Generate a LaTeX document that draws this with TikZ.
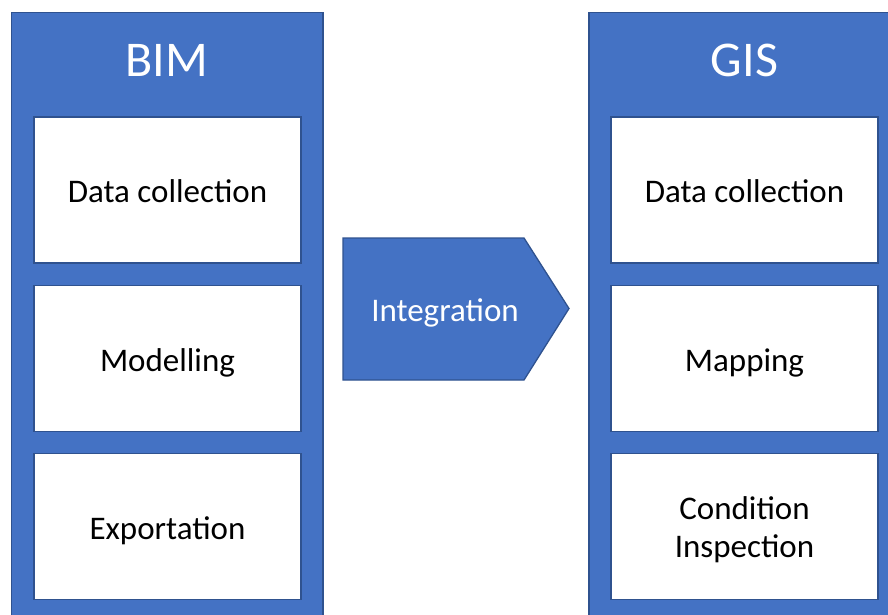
\documentclass[tikz,border=0pt]{standalone}
\usepackage{fontspec}
\setmainfont{Carlito}
\definecolor{panel}{RGB}{68,114,196}
\definecolor{edge}{RGB}{47,82,143}
\usepackage{tikz}

\begin{document}
\begin{tikzpicture}[x=1pt,y=-1pt,
    colbox/.style={fill=panel,draw=edge,line width=1.3pt},
    itembox/.style={fill=white,draw=edge,line width=1.3pt,minimum width=267pt,minimum height=146pt,
      inner sep=0pt,align=center,font=\fontsize{33}{38}\selectfont},
    oneline/.style={text height=33pt,text depth=8pt},
    title/.style={text=white,font=\fontsize{50}{60}\selectfont}]
  \useasboundingbox (0,0) rectangle (888,614);
  \clip (0,0) rectangle (888,614);
  % two columns
  \draw[colbox] (11.5,12.5) rectangle (323,650);
  \draw[colbox] (589,12.5) rectangle (905,650);
  \node[title] (bim) at (167,60) {BIM};
  \node[title] (gis) at (744.5,60) {GIS};
  \foreach \n/\x/\y/\t in {bimdata/167.5/190/Data collection,bimmodel/167.5/358.5/Modelling,
      bimexport/167.5/526.5/Exportation,gisdata/744.5/190/Data collection,gismap/744.5/358.5/Mapping}
    \node[itembox,oneline] (\n) at (\x,\y) {\t};
  \node[itembox] (gisinspect) at (744.5,526.5) {};
  \node[font=\fontsize{33}{38}\selectfont,align=center] (inspecttext) at (744.5,529.5) {Condition\\Inspection};
  % middle chevron
  \draw[colbox] (343,238) -- (524,238) -- (569,308.5) -- (524,380) -- (343,380) -- cycle;
  \node[text=white,font=\fontsize{33}{38}\selectfont,oneline] (integ) at (445,308.5) {Integration};
\end{tikzpicture}
\end{document}
